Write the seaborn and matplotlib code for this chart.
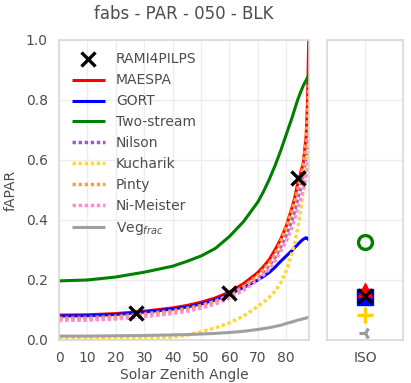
import matplotlib
matplotlib.use("Agg")
import matplotlib.pyplot as plt
import seaborn as sns
import numpy as np
import pandas as pd

# Solar zenith angles (degrees) at which the models are sampled
sza = [0, 10, 20, 30, 40, 45, 50, 55, 60, 65, 70, 72, 74, 76, 78, 80, 82, 83, 84, 85, 86, 87, 87.5, 88]

maespa    = [0.083, 0.084, 0.088, 0.096, 0.107, 0.115, 0.126, 0.140, 0.160, 0.188, 0.225, 0.245, 0.268, 0.300, 0.335, 0.380, 0.440, 0.475, 0.520, 0.555, 0.590, 0.680, 0.800, 1.050]
gort      = [0.080, 0.081, 0.085, 0.093, 0.103, 0.110, 0.120, 0.134, 0.153, 0.175, 0.200, 0.212, 0.225, 0.242, 0.262, 0.280, 0.298, 0.308, 0.318, 0.328, 0.336, 0.341, 0.338, 0.333]
twostream = [0.197, 0.200, 0.210, 0.226, 0.246, 0.262, 0.280, 0.305, 0.345, 0.395, 0.460, 0.495, 0.535, 0.580, 0.630, 0.685, 0.740, 0.770, 0.800, 0.825, 0.848, 0.866, 0.875, 0.882]
nilson    = [0.075, 0.076, 0.080, 0.088, 0.098, 0.106, 0.116, 0.130, 0.150, 0.176, 0.210, 0.228, 0.248, 0.275, 0.310, 0.350, 0.400, 0.432, 0.470, 0.505, 0.550, 0.610, 0.650, 0.690]
kucharik  = [0.005, 0.005, 0.005, 0.006, 0.010, 0.016, 0.028, 0.040, 0.057, 0.080, 0.112, 0.126, 0.142, 0.162, 0.190, 0.230, 0.290, 0.325, 0.370, 0.425, 0.500, 0.570, 0.610, 0.650]
pinty     = [0.070, 0.071, 0.075, 0.084, 0.095, 0.103, 0.114, 0.128, 0.150, 0.178, 0.215, 0.235, 0.256, 0.285, 0.325, 0.375, 0.430, 0.463, 0.500, 0.540, 0.580, 0.660, 0.750, 0.850]
nimeister = [0.065, 0.066, 0.070, 0.078, 0.088, 0.096, 0.106, 0.120, 0.140, 0.166, 0.200, 0.217, 0.236, 0.262, 0.295, 0.330, 0.375, 0.405, 0.440, 0.470, 0.500, 0.550, 0.575, 0.600]
vegfrac   = [0.013, 0.013, 0.014, 0.015, 0.017, 0.018, 0.020, 0.022, 0.025, 0.029, 0.035, 0.038, 0.041, 0.045, 0.049, 0.055, 0.060, 0.063, 0.066, 0.068, 0.071, 0.073, 0.075, 0.076]

# RAMI4PILPS reference runs
rami_sza = [27, 60, 84]
rami_val = [0.089, 0.156, 0.539]

# Isotropic illumination results
iso_labels = ["Two-stream", "GORT", "MAESPA", "RAMI4PILPS", "Kucharik", "Veg_frac"]
iso_values = [0.328, 0.142, 0.165, 0.147, 0.083, 0.024]

sns.set_theme(style="whitegrid")
plt.rcParams["font.family"] = ["DejaVu Sans"]
txt = "0.3"
plt.rcParams.update({
    "text.color": txt, "axes.labelcolor": txt,
    "xtick.color": txt, "ytick.color": txt,
    "axes.edgecolor": "0.85", "grid.color": "0.93",
})

fig = plt.figure(figsize=(4.11, 3.83), dpi=100)
ax = fig.add_axes([0.1436, 0.1123, 0.6082, 0.7833])
axi = fig.add_axes([0.7956, 0.1123, 0.1849, 0.7833])

ax.plot(rami_sza, rami_val, ls="none", marker="x", ms=10, mew=2.4,
        color="black", label="RAMI4PILPS", zorder=10)

series = [
    (maespa, "MAESPA", "red", False),
    (gort, "GORT", "blue", False),
    (twostream, "Two-stream", "green", False),
    (nilson, "Nilson", "#a05cc0", True),
    (kucharik, "Kucharik", "#ffd836", True),
    (pinty, "Pinty", "#ff9f45", True),
    (nimeister, "Ni-Meister", "#ff8ccf", True),
    (vegfrac, "Veg$_{frac}$", "#a0a0a0", False),
]
for vals, name, col, dotted in series:
    sns.lineplot(x=sza, y=vals, ax=ax, color=col, label=name)
    ln = ax.lines[-1]
    if dotted:
        ln.set_linewidth(2.5)
        ln.set_linestyle((0, (1.0, 0.75)))
        ln.set_dash_capstyle("butt")
    else:
        ln.set_linewidth(2.2)
        ln.set_solid_capstyle("butt")

ax.set_xlim(0, 88)
ax.set_ylim(0, 1)
ax.set_xticks(np.arange(0, 81, 10))
ax.set_yticks(np.arange(0, 1.01, 0.2))
ax.set_yticklabels([f"{v:.1f}" for v in np.arange(0, 1.01, 0.2)])
ax.tick_params(labelsize=10, pad=2)
ax.set_xlabel("Solar Zenith Angle", fontsize=10, labelpad=2)
ax.set_ylabel("fAPAR", fontsize=10, labelpad=6)
ax.set_title("fabs - PAR - 050 - BLK", fontsize=12, pad=15)

handles, labels = ax.get_legend_handles_labels()
ax.legend(handles, labels, loc="upper left", frameon=False, fontsize=10,
          handlelength=2.4, handletextpad=0.8, labelspacing=0.5)

# Isotropic panel
iso = pd.DataFrame({"case": ["ISO"] * len(iso_values), "model": iso_labels, "val": iso_values})
styles = {
    "Two-stream": dict(marker="o", mfc="none", mec="green", mew=2.4, ms=10, color="green"),
    "GORT": dict(marker="s", mfc="blue", mec="blue", ms=11, color="blue"),
    "MAESPA": dict(marker="^", mfc="red", mec="red", ms=10, color="red"),
    "RAMI4PILPS": dict(marker="x", mec="black", mew=2.4, ms=10, color="black"),
    "Kucharik": dict(marker="+", mec="#ffd000", mew=2.4, ms=11, color="#ffd000"),
    "Veg_frac": dict(marker="3", mec="#999999", mew=2.2, ms=9, color="#999999"),
}
for _, row in iso.iterrows():
    axi.plot([0], [row["val"]], ls="none", **styles[row["model"]])

axi.set_xlim(-1, 1)
axi.set_ylim(0, 1)
axi.set_xticks([0])
axi.set_xticklabels(["ISO"])
axi.set_yticks(np.arange(0, 1.01, 0.2))
axi.set_yticklabels([])
axi.tick_params(labelsize=10, pad=2)
axi.set_xlabel("")
axi.set_ylabel("")

for a in (ax, axi):
    for s in a.spines.values():
        s.set_linewidth(1.2)

fig.savefig("out.png", dpi=100)
